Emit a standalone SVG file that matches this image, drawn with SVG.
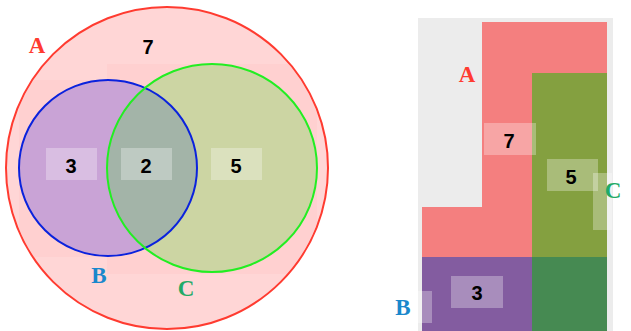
<svg xmlns="http://www.w3.org/2000/svg" width="631" height="331" viewBox="0 0 631 331">
<style>
.num{font-family:"Liberation Sans",Arial,sans-serif;font-weight:bold;font-size:20px;fill:#000;text-anchor:middle}
.lbl{font-family:"Liberation Serif","Times New Roman",serif;font-weight:bold;font-size:23px;text-anchor:middle}
.box{fill:#fff;fill-opacity:0.3}
.tint{fill:#ffc4c4;fill-opacity:0.3}
</style>
<defs>
<clipPath id="clipB"><ellipse cx="108" cy="168" rx="89" ry="88"/></clipPath>
<clipPath id="clipA"><circle cx="167" cy="168" r="160"/></clipPath>
</defs>
<rect width="631" height="331" fill="#fff"/>
<g id="venn">
  <g id="A">
    <circle cx="167" cy="168" r="161" fill="#ffd6d6" stroke="#ff3b30" stroke-width="2"/>
    <g clip-path="url(#clipA)">
      <rect class="tint" x="107" y="64" width="210" height="210"/>
      <rect class="tint" x="19" y="80" width="88" height="177"/>
    </g>
    <text class="lbl" x="37" y="53" fill="#ff3b30">A</text>
    <text class="num" x="148" y="54">7</text>
  </g>
  <g id="B">
    <ellipse cx="108" cy="168" rx="89" ry="88" fill="#c9a3d6"/>
  </g>
  <g id="C">
    <ellipse cx="212" cy="168" rx="105" ry="104" fill="#ccd5a3"/>
    <ellipse cx="212" cy="168" rx="105" ry="104" fill="#a3b4a8" clip-path="url(#clipB)"/>
  </g>
  <ellipse cx="108" cy="168" rx="89" ry="88" fill="none" stroke="#0a22dd" stroke-width="2"/>
  <ellipse cx="212" cy="168" rx="105" ry="104" fill="none" stroke="#22ee22" stroke-width="2"/>
  <g id="labelsL">
    <rect class="box" x="46" y="148" width="51" height="32"/>
    <text class="num" x="71" y="173">3</text>
    <rect class="box" x="121" y="148" width="51" height="32"/>
    <text class="num" x="146" y="173">2</text>
    <rect class="box" x="211" y="148" width="51" height="32"/>
    <text class="num" x="236" y="173">5</text>
    <text class="lbl" x="99" y="283" fill="#1a88cc">B</text>
    <text class="lbl" x="186" y="296" fill="#22aa66">C</text>
  </g>
</g>
<g id="blocks">
  <rect x="418" y="18" width="195" height="313" fill="#ececec"/>
  <g id="A2">
    <polygon points="482,22 607,22 607,257 422,257 422,207 482,207" fill="#f47f7f"/>
    <text class="lbl" x="467" y="82" fill="#ff3b30">A</text>
  </g>
  <g id="C2">
    <rect x="532" y="73" width="75" height="184" fill="#84a040"/>
  </g>
  <g id="B2">
    <rect x="422" y="257" width="110" height="74" fill="#835ca0"/>
  </g>
  <g id="BC2">
    <rect x="532" y="257" width="75" height="74" fill="#468a52"/>
  </g>
  <rect class="box" x="484" y="123" width="52" height="32"/>
  <text class="num" x="509" y="148">7</text>
  <rect class="box" x="547" y="159" width="51" height="32"/>
  <rect class="box" x="593" y="173" width="19" height="57"/>
  <text class="num" x="571" y="184">5</text>
  <rect class="box" x="451" y="276" width="52" height="32"/>
  <text class="num" x="477" y="300">3</text>
  <rect class="box" x="418" y="291" width="14" height="32"/>
  <text class="lbl" x="403" y="315" fill="#1a88cc">B</text>
  <text class="lbl" x="613" y="198" fill="#22aa66" text-anchor="start">C</text>
</g>
</svg>
